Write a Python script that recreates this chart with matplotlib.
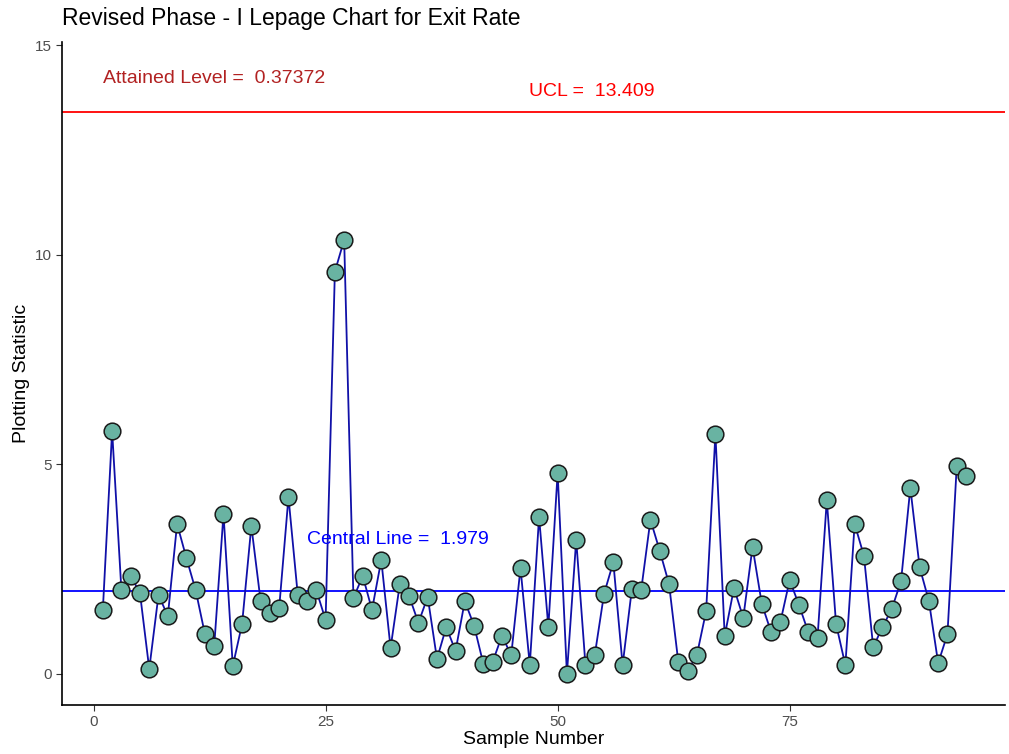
import numpy as np
import matplotlib
matplotlib.use("Agg")
import matplotlib.pyplot as plt

plt.rcParams["font.family"] = ["Liberation Sans", "DejaVu Sans"]

# plotting statistic per sample
stat = [1.53, 5.80, 2.00, 2.34, 1.93, 0.12, 1.89, 1.38, 3.58, 2.77,
        2.00, 0.95, 0.67, 3.82, 0.19, 1.19, 3.53, 1.74, 1.46, 1.58,
        4.22, 1.89, 1.74, 2.00, 1.29, 9.60, 10.36, 1.81, 2.34, 1.53,
        2.72, 0.62, 2.15, 1.86, 1.22, 1.84, 0.36, 1.12, 0.55, 1.74,
        1.15, 0.24, 0.29, 0.91, 0.45, 2.53, 0.21, 3.75, 1.12, 4.80,
        0.00, 3.20, 0.21, 0.45, 1.91, 2.67, 0.21, 2.03, 2.00, 3.68,
        2.94, 2.15, 0.29, 0.07, 0.45, 1.50, 5.73, 0.91, 2.05, 1.34,
        3.03, 1.67, 1.00, 1.24, 2.24, 1.65, 1.00, 0.86, 4.15, 1.19,
        0.21, 3.58, 2.82, 0.64, 1.12, 1.55, 2.22, 4.44, 2.55, 1.74,
        0.26, 0.95, 4.96, 4.73]
sample = np.arange(1, len(stat) + 1)

ucl = 13.409
central = 1.979
attained = 0.37372

fig = plt.figure(figsize=(10.09, 7.54), dpi=100)
ax = fig.add_axes([62 / 1009, 49 / 754, 943 / 1009, 663 / 754])

ax.axhline(ucl, color="red", linewidth=1.3, zorder=1)
ax.axhline(central, color="blue", linewidth=1.3, zorder=1)
ax.plot(sample, stat, color="#1010A8", linewidth=1.3, zorder=2)
ax.plot(sample, stat, linestyle="none", marker="o", markersize=12,
        markerfacecolor="#69B3A2", markeredgecolor="#1a1a1a",
        markeredgewidth=1.1, zorder=3)

ax.text(13.0, 14.2, f"Attained Level =  {attained}", color="#B22222",
        fontsize=14, ha="center", va="center")
ax.text(53.7, 13.9, f"UCL =  {ucl}", color="red",
        fontsize=14, ha="center", va="center")
ax.text(32.8, 3.2, f"Central Line =  {central}", color="blue",
        fontsize=14, ha="center", va="center")

ax.set_xlim(-3.4, 98.2)
ax.set_ylim(-0.74, 15.08)
ax.set_xticks([0, 25, 50, 75])
ax.set_yticks([0, 5, 10, 15])

for s in ["top", "right"]:
    ax.spines[s].set_visible(False)
for s in ["left", "bottom"]:
    ax.spines[s].set_linewidth(1.2)
ax.tick_params(axis="both", colors="#333333", labelsize=11, length=4,
               labelcolor="#4d4d4d")

ax.set_xlabel("Sample Number", fontsize=14, labelpad=1)
ax.set_ylabel("Plotting Statistic", fontsize=14, labelpad=3)
fig.text(62 / 1009, 1 - 18 / 754, "Revised Phase - I Lepage Chart for Exit Rate",
         fontsize=16.5, ha="left", va="center")

fig.savefig("out.png", dpi=100)
